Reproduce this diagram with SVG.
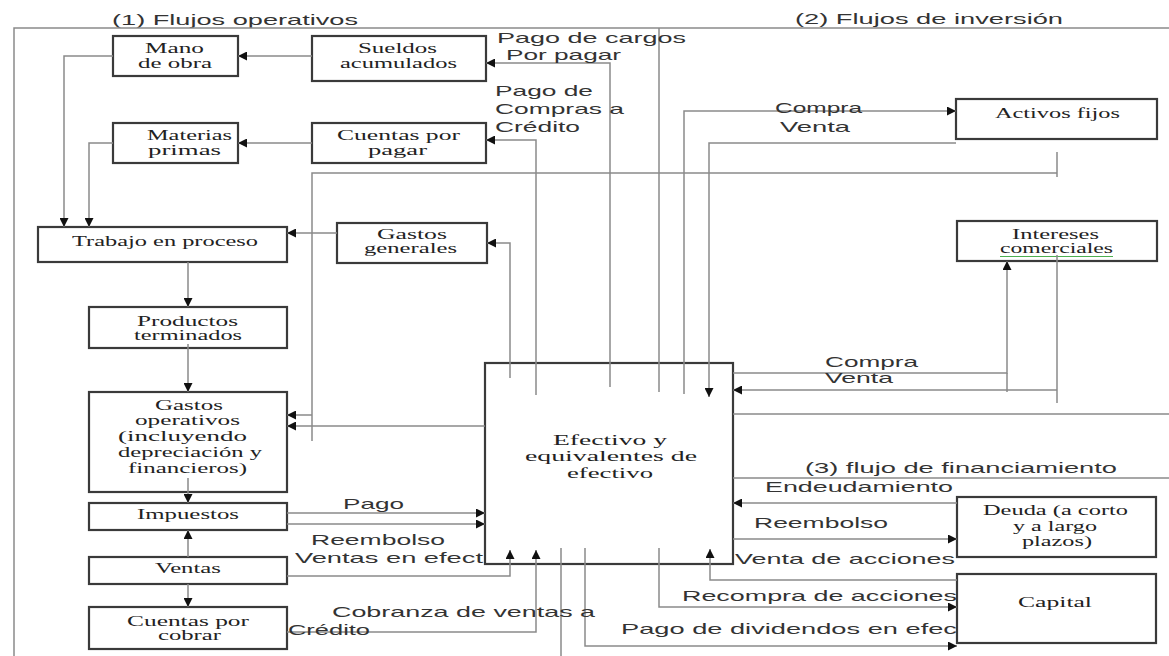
<svg xmlns="http://www.w3.org/2000/svg" width="1169" height="656" viewBox="0 0 1169 656">
<defs>
<style>
.box{fill:#fff;stroke:#3a3a3a;stroke-width:2.2}
.c{fill:none;stroke:#8a8a8a;stroke-width:1.5}
.b{font-family:"Liberation Serif","Times New Roman",serif;font-size:15px;fill:#222}
.l{font-family:"Liberation Sans",Arial,sans-serif;font-size:15px;fill:#333}
</style>
<marker id="a" viewBox="0 0 10 10" refX="10" refY="5" markerWidth="12" markerHeight="9" markerUnits="userSpaceOnUse" orient="auto">
<path d="M0,0 L10,5 L0,10 z" fill="#111"/>
</marker>
</defs>
<rect width="1169" height="656" fill="#fff"/>

<g id="titles">
<text class="l" x="112" y="25" textLength="246" lengthAdjust="spacingAndGlyphs">(1) Flujos operativos</text>
<text class="l" x="795" y="24" textLength="268" lengthAdjust="spacingAndGlyphs">(2) Flujos de inversión</text>
<text class="l" x="805" y="473" textLength="312" lengthAdjust="spacingAndGlyphs">(3) flujo de financiamiento</text>
</g>

<g id="mano-de-obra">
<rect class="box" x="113" y="36" width="125" height="40"/>
<text class="b" x="145" y="53" textLength="59" lengthAdjust="spacingAndGlyphs">Mano</text>
<text class="b" x="138" y="68" textLength="74" lengthAdjust="spacingAndGlyphs">de obra</text>
</g>
<g id="sueldos-acumulados">
<rect class="box" x="312" y="36" width="174" height="45"/>
<text class="b" x="358" y="53" textLength="79" lengthAdjust="spacingAndGlyphs">Sueldos</text>
<text class="b" x="340" y="68" textLength="117" lengthAdjust="spacingAndGlyphs">acumulados</text>
</g>
<g id="materias-primas">
<rect class="box" x="113" y="123" width="125" height="40"/>
<text class="b" x="147" y="140" textLength="85" lengthAdjust="spacingAndGlyphs">Materias</text>
<text class="b" x="148" y="155" textLength="73" lengthAdjust="spacingAndGlyphs">primas</text>
</g>
<g id="cuentas-por-pagar">
<rect class="box" x="312" y="123" width="174" height="40"/>
<text class="b" x="337" y="140" textLength="123" lengthAdjust="spacingAndGlyphs">Cuentas por</text>
<text class="b" x="368" y="155" textLength="59" lengthAdjust="spacingAndGlyphs">pagar</text>
</g>
<g id="trabajo-en-proceso">
<rect class="box" x="38" y="227" width="249" height="35"/>
<text class="b" x="72" y="246" textLength="186" lengthAdjust="spacingAndGlyphs">Trabajo en proceso</text>
</g>
<g id="gastos-generales">
<rect class="box" x="337" y="223" width="150" height="40"/>
<text class="b" x="377" y="239" textLength="70" lengthAdjust="spacingAndGlyphs">Gastos</text>
<text class="b" x="364" y="253" textLength="93" lengthAdjust="spacingAndGlyphs">generales</text>
</g>
<g id="productos-terminados">
<rect class="box" x="89" y="307" width="198" height="41"/>
<text class="b" x="137" y="326" textLength="101" lengthAdjust="spacingAndGlyphs">Productos</text>
<text class="b" x="134" y="340" textLength="108" lengthAdjust="spacingAndGlyphs">terminados</text>
</g>
<g id="gastos-operativos">
<rect class="box" x="89" y="392" width="198" height="100"/>
<text class="b" x="155" y="410" textLength="68" lengthAdjust="spacingAndGlyphs">Gastos</text>
<text class="b" x="135" y="425" textLength="105" lengthAdjust="spacingAndGlyphs">operativos</text>
<text class="b" x="118" y="441" textLength="129" lengthAdjust="spacingAndGlyphs">(incluyendo</text>
<text class="b" x="118" y="457" textLength="144" lengthAdjust="spacingAndGlyphs">depreciación y</text>
<text class="b" x="128" y="473" textLength="119" lengthAdjust="spacingAndGlyphs">financieros)</text>
</g>
<g id="impuestos">
<rect class="box" x="89" y="503" width="198" height="27"/>
<text class="b" x="137" y="519" textLength="102" lengthAdjust="spacingAndGlyphs">Impuestos</text>
</g>
<g id="ventas">
<rect class="box" x="89" y="557" width="198" height="27"/>
<text class="b" x="155" y="573" textLength="66" lengthAdjust="spacingAndGlyphs">Ventas</text>
</g>
<g id="cuentas-por-cobrar">
<rect class="box" x="89" y="607" width="198" height="42"/>
<text class="b" x="127" y="626" textLength="122" lengthAdjust="spacingAndGlyphs">Cuentas por</text>
<text class="b" x="158" y="640" textLength="63" lengthAdjust="spacingAndGlyphs">cobrar</text>
</g>
<g id="efectivo">
<rect class="box" x="485" y="363" width="248" height="201"/>
<text class="b" x="553" y="445" textLength="114" lengthAdjust="spacingAndGlyphs">Efectivo y</text>
<text class="b" x="525" y="461" textLength="172" lengthAdjust="spacingAndGlyphs">equivalentes de</text>
<text class="b" x="567" y="478" textLength="86" lengthAdjust="spacingAndGlyphs">efectivo</text>
</g>
<g id="activos-fijos">
<rect class="box" x="956" y="99" width="201" height="40"/>
<text class="b" x="995" y="118" textLength="125" lengthAdjust="spacingAndGlyphs">Activos fijos</text>
</g>
<g id="intereses-comerciales">
<rect class="box" x="957" y="221" width="200" height="40"/>
<text class="b" x="1012" y="239" textLength="87" lengthAdjust="spacingAndGlyphs">Intereses</text>
<text class="b" x="1000" y="253" textLength="113" lengthAdjust="spacingAndGlyphs">comerciales</text>
<line x1="1000" y1="256.5" x2="1113" y2="256.5" stroke="#4caf50" stroke-width="1"/>
</g>
<g id="deuda">
<rect class="box" x="957" y="497" width="199" height="60"/>
<text class="b" x="983" y="515" textLength="145" lengthAdjust="spacingAndGlyphs">Deuda (a corto</text>
<text class="b" x="1013" y="531" textLength="84" lengthAdjust="spacingAndGlyphs">y a largo</text>
<text class="b" x="1022" y="546" textLength="70" lengthAdjust="spacingAndGlyphs">plazos)</text>
</g>
<g id="capital">
<rect class="box" x="957" y="574" width="199" height="69"/>
<text class="b" x="1018" y="607" textLength="74" lengthAdjust="spacingAndGlyphs">Capital</text>
</g>

<g id="connectors">
<path class="c" d="M14,656 V28 H1169"/>
<path class="c" d="M312,56 H238" marker-end="url(#a)"/>
<path class="c" d="M113,56 H64 V227" marker-end="url(#a)"/>
<path class="c" d="M312,143 H238" marker-end="url(#a)"/>
<path class="c" d="M113,143 H89 V227" marker-end="url(#a)"/>
<path class="c" d="M337,233 H287" marker-end="url(#a)"/>
<path class="c" d="M188,262 V307" marker-end="url(#a)"/>
<path class="c" d="M188,344 V392" marker-end="url(#a)"/>
<path class="c" d="M188,478 V503" marker-end="url(#a)"/>
<path class="c" d="M188,557 V530" marker-end="url(#a)"/>
<path class="c" d="M188,584 V607" marker-end="url(#a)"/>
<path class="c" d="M1057,152 V177 M1057,173 H312 V441"/>
<path class="c" d="M312,415 H287" marker-end="url(#a)"/>
<path class="c" d="M485,426 H287" marker-end="url(#a)"/>
<path class="c" d="M510,378 V243 H487" marker-end="url(#a)"/>
<path class="c" d="M536,395 V140 H486" marker-end="url(#a)"/>
<path class="c" d="M610,387 V63 H486" marker-end="url(#a)"/>
<path class="c" d="M659,28 V392"/>
<path class="c" d="M684,394 V111 H956" marker-end="url(#a)"/>
<path class="c" d="M956,143 H709 V397" marker-end="url(#a)"/>
<path class="c" d="M733,373 H1007 V261" marker-end="url(#a)"/>
<path class="c" d="M1007,373 V392"/>
<path class="c" d="M1057,255 V403 M1057,390 H733" marker-end="url(#a)"/>
<path class="c" d="M733,414 H1169"/>
<path class="c" d="M733,478 H1169"/>
<path class="c" d="M957,503 H733" marker-end="url(#a)"/>
<path class="c" d="M733,539 H957" marker-end="url(#a)"/>
<path class="c" d="M957,580 H710 V549" marker-end="url(#a)"/>
<path class="c" d="M659,548 V607 H957" marker-end="url(#a)"/>
<path class="c" d="M585,548 V646 H957" marker-end="url(#a)"/>
<path class="c" d="M561,548 V656"/>
<path class="c" d="M287,513 H485" marker-end="url(#a)"/>
<path class="c" d="M287,524 H485" marker-end="url(#a)"/>
<path class="c" d="M287,576 H510 V550" marker-end="url(#a)"/>
<path class="c" d="M287,632 H536 V550" marker-end="url(#a)"/>
</g>

<g id="labels">
<text class="l" x="497" y="43" textLength="189" lengthAdjust="spacingAndGlyphs">Pago de cargos</text>
<text class="l" x="506" y="60" textLength="115" lengthAdjust="spacingAndGlyphs">Por pagar</text>
<text class="l" x="495" y="96" textLength="98" lengthAdjust="spacingAndGlyphs">Pago de</text>
<text class="l" x="495" y="114" textLength="129" lengthAdjust="spacingAndGlyphs">Compras a</text>
<text class="l" x="495" y="132" textLength="85" lengthAdjust="spacingAndGlyphs">Crédito</text>
<text class="l" x="775" y="113" textLength="87" lengthAdjust="spacingAndGlyphs">Compra</text>
<text class="l" x="780" y="132" textLength="70" lengthAdjust="spacingAndGlyphs">Venta</text>
<text class="l" x="825" y="367" textLength="93" lengthAdjust="spacingAndGlyphs">Compra</text>
<text class="l" x="825" y="383" textLength="68" lengthAdjust="spacingAndGlyphs">Venta</text>
<text class="l" x="765" y="492" textLength="188" lengthAdjust="spacingAndGlyphs">Endeudamiento</text>
<text class="l" x="754" y="528" textLength="134" lengthAdjust="spacingAndGlyphs">Reembolso</text>
<text class="l" x="735" y="564" textLength="220" lengthAdjust="spacingAndGlyphs">Venta de acciones</text>
<text class="l" x="682" y="601" textLength="275" lengthAdjust="spacingAndGlyphs">Recompra de acciones</text>
<text class="l" x="621" y="634" textLength="336" lengthAdjust="spacingAndGlyphs">Pago de dividendos en efec</text>
<text class="l" x="343" y="509" textLength="61" lengthAdjust="spacingAndGlyphs">Pago</text>
<text class="l" x="311" y="545" textLength="134" lengthAdjust="spacingAndGlyphs">Reembolso</text>
<text class="l" x="295" y="563" textLength="188" lengthAdjust="spacingAndGlyphs">Ventas en efect</text>
<text class="l" x="332" y="617" textLength="263" lengthAdjust="spacingAndGlyphs">Cobranza de ventas a</text>
<text class="l" x="288" y="635" textLength="82" lengthAdjust="spacingAndGlyphs">Crédito</text>
</g>
</svg>
